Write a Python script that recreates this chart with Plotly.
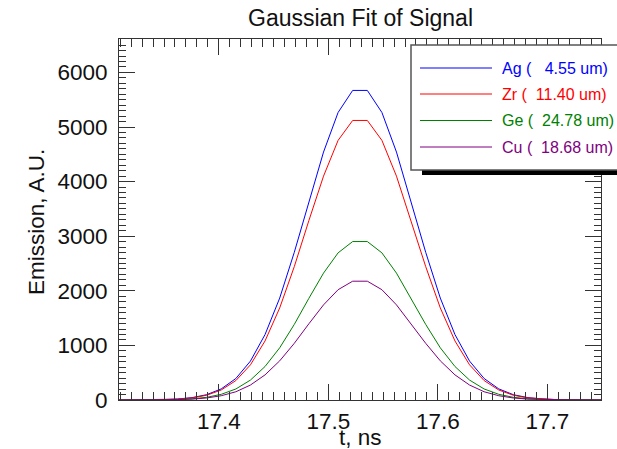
import plotly.graph_objects as go

# Sample times (ns)
t_ns = [17.3089, 17.3222, 17.3356, 17.3489, 17.3622, 17.3756, 17.3889, 17.4022,
        17.4156, 17.4289, 17.4422, 17.4556, 17.4689, 17.4822, 17.4956, 17.5089,
        17.5222, 17.5356, 17.5489, 17.5622, 17.5756, 17.5889, 17.6022, 17.6156,
        17.6289, 17.6422, 17.6556, 17.6689, 17.6822, 17.6956, 17.7089, 17.7222,
        17.7356, 17.7489]

# Fitted emission per element (A.U.)
ag = [0, 1, 2, 7, 18, 43, 97, 203, 394, 713, 1198, 1867, 2704, 3636, 4541, 5266, 5670,
      5670, 5266, 4541, 3636, 2704, 1867, 1198, 713, 394, 203, 97, 43, 18, 7, 2, 1, 0]
zr = [0, 1, 2, 6, 16, 39, 87, 183, 356, 644, 1081, 1686, 2442, 3284, 4100, 4755, 5120,
      5120, 4755, 4100, 3284, 2442, 1686, 1081, 644, 356, 183, 87, 39, 16, 6, 2, 1, 0]
ge = [0, 0, 1, 3, 9, 22, 49, 104, 202, 365, 613, 956, 1384, 1861, 2324, 2695, 2902,
      2902, 2695, 2324, 1861, 1384, 956, 613, 365, 202, 104, 49, 22, 9, 3, 1, 0, 0]
cu = [0, 0, 1, 3, 7, 16, 37, 78, 151, 274, 460, 717, 1038, 1395, 1742, 2020, 2176,
      2176, 2020, 1742, 1395, 1038, 717, 460, 274, 151, 78, 37, 16, 7, 3, 1, 0, 0]

elements = ["Ag", "Zr", "Ge", "Cu"]
thickness_um = [4.55, 11.40, 24.78, 18.68]
colors = ["#0000ff", "#ff0000", "#008000", "#800080"]
series = [ag, zr, ge, cu]

x_range = [17.3089, 17.7489]
y_range = [0, 6612]
x_ticks = [17.4, 17.5, 17.6, 17.7]
y_ticks = [0, 1000, 2000, 3000, 4000, 5000, 6000]

W, H = 617, 449
L, R, T, B = 119, 601, 39, 400  # plot area in pixels


def px(x):
    return (x - L) / (R - L)


def py(y):
    return (B - y) / (B - T)


fig = go.Figure()
for name, vals, col in zip(elements, series, colors):
    fig.add_trace(go.Scatter(x=t_ns, y=vals, mode="lines", name=name,
                             line=dict(color=col, width=1), showlegend=False))

font = "Liberation Sans, Arial, Helvetica, sans-serif"
axcol = "#333333"
axis_common = dict(showline=True, linecolor=axcol, linewidth=1, mirror="allticks",
                   ticks="inside", ticklen=16, tickwidth=1, tickcolor=axcol,
                   showgrid=False, zeroline=False,
                   tickfont=dict(family=font, size=22.5, color="#111"))

fig.update_xaxes(range=x_range, tickvals=x_ticks, ticktext=[f"{v:.1f}" for v in x_ticks],
                 minor=dict(dtick=0.01, tick0=17.4, ticks="inside", ticklen=8,
                            tickwidth=1, tickcolor=axcol),
                 ticklabelstandoff=1,
                 **axis_common)
fig.update_yaxes(range=y_range, tickvals=y_ticks, ticktext=[str(v) for v in y_ticks],
                 minor=dict(dtick=100, tick0=0, ticks="inside", ticklen=7,
                            tickwidth=1, tickcolor=axcol),
                 ticklabelstandoff=6,
                 **axis_common)

shapes = []
annotations = []

# legend shadow and box
shapes.append(dict(type="rect", xref="paper", yref="paper", layer="above",
                   x0=px(422), x1=px(660), y0=py(175), y1=py(56),
                   fillcolor="black", line=dict(width=0)))
shapes.append(dict(type="rect", xref="paper", yref="paper", layer="above",
                   x0=px(411), x1=px(650), y0=py(170), y1=py(45),
                   fillcolor="white", line=dict(color="#555555", width=1.5)))

row_y = [68, 94, 120.5, 147]
for name, th, col, yy in zip(elements, thickness_um, colors, row_y):
    shapes.append(dict(type="line", xref="paper", yref="paper", layer="above",
                       x0=px(420), x1=px(492), y0=py(yy), y1=py(yy),
                       line=dict(color=col, width=1)))
    label = f"{name} ( {th:6.2f} um)".replace(" ", "&nbsp;")
    annotations.append(dict(xref="paper", yref="paper", x=px(500), y=py(yy),
                            xanchor="left", yanchor="middle", showarrow=False,
                            text=label, font=dict(family=font, size=16, color=col)))

# titles
annotations.append(dict(xref="paper", yref="paper", x=px(360), y=py(18),
                        xanchor="center", yanchor="middle", showarrow=False,
                        text="Gaussian Fit of Signal",
                        font=dict(family=font, size=23, color="#111")))
annotations.append(dict(xref="paper", yref="paper", x=px(360), y=py(438),
                        xanchor="center", yanchor="middle", showarrow=False,
                        text="t, ns", font=dict(family=font, size=22.5, color="#111")))
annotations.append(dict(xref="paper", yref="paper", x=px(36), y=py(222),
                        xanchor="center", yanchor="middle", showarrow=False,
                        text="Emission, A.U.", textangle=-90,
                        font=dict(family=font, size=22.5, color="#111")))

fig.update_layout(width=W, height=H, margin=dict(l=L, r=W - R, t=T, b=H - B),
                  paper_bgcolor="white", plot_bgcolor="white",
                  shapes=shapes, annotations=annotations)

fig.write_html("out.html")
